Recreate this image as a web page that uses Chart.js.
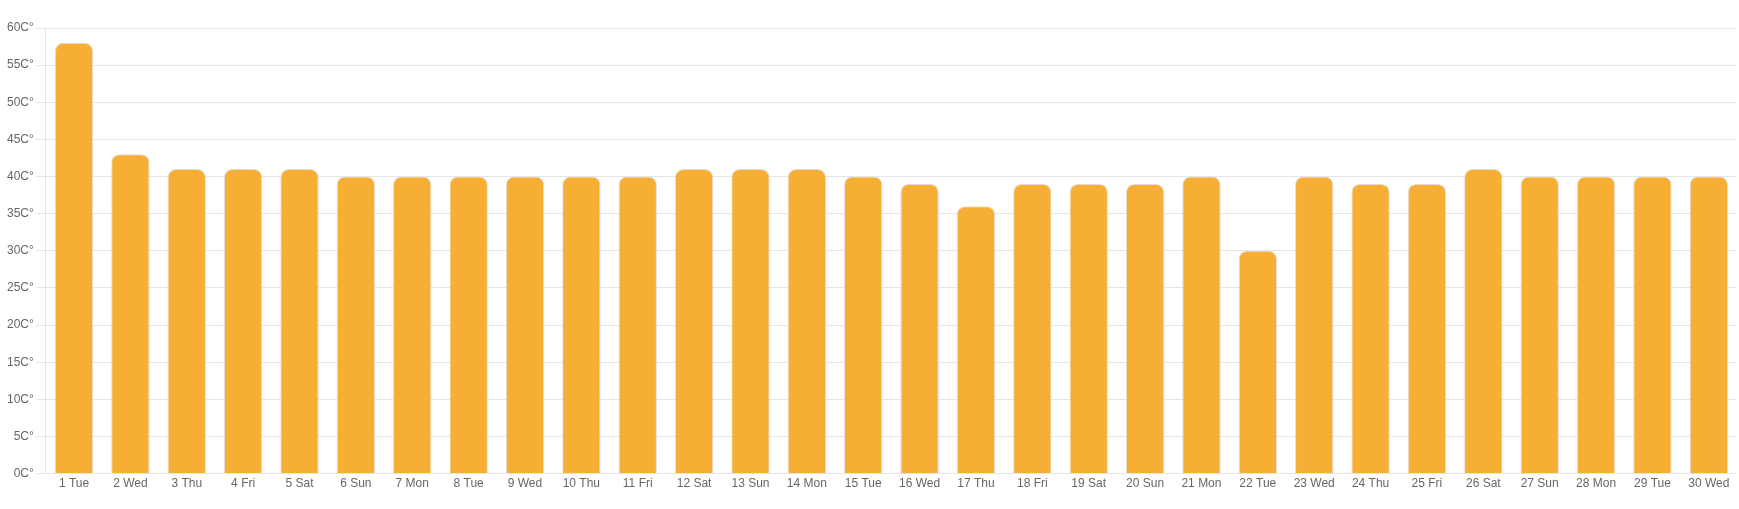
<!DOCTYPE html>
<html>
<head>
<meta charset="utf-8">
<script src="https://cdn.jsdelivr.net/npm/chart.js@4/dist/chart.umd.min.js"></script>
<style>
  html, body { margin: 0; padding: 0; background: #fff; }
  #wrap { width: 1739px; height: 509px; position: relative; }
</style>
</head>
<body>
<div id="wrap"><canvas id="tempChart"></canvas></div>
<script>
const dayLabels = ['1 Tue', '2 Wed', '3 Thu', '4 Fri', '5 Sat', '6 Sun', '7 Mon', '8 Tue', '9 Wed', '10 Thu',
    '11 Fri', '12 Sat', '13 Sun', '14 Mon', '15 Tue', '16 Wed', '17 Thu', '18 Fri', '19 Sat', '20 Sun',
    '21 Mon', '22 Tue', '23 Wed', '24 Thu', '25 Fri', '26 Sat', '27 Sun', '28 Mon', '29 Tue', '30 Wed'];
const maxTemps = [58, 43, 41, 41, 41, 40, 40, 40, 40, 40,
    40, 41, 41, 41, 40, 39, 36, 39, 39, 39,
    40, 30, 40, 39, 39, 41, 40, 40, 40, 40];
const yMin = 0;
const yMax = 60;
const yStep = 5;

Chart.defaults.font.family = '"Liberation Sans", Arial, sans-serif';
Chart.defaults.font.size = 12;
Chart.defaults.color = '#666';

const ctx = document.getElementById('tempChart').getContext('2d');
new Chart(ctx, {
    type: 'bar',
    data: {
        labels: dayLabels,
        datasets: [{
            label: 'Temperature',
            data: maxTemps,
            backgroundColor: '#f6ae35',
            borderColor: '#e2ddd5',
            borderWidth: 1,
            borderRadius: 8,
            borderSkipped: 'bottom',
            barPercentage: 0.85,
            categoryPercentage: 0.8
        }]
    },
    options: {
        responsive: true,
        maintainAspectRatio: false,
        animation: false,
        layout: { padding: { top: 28, right: 2, bottom: 15, left: 5 } },
        plugins: {
            legend: { display: false },
            tooltip: { enabled: false }
        },
        scales: {
            x: {
                grid: { display: false, drawTicks: false },
                border: { display: false },
                ticks: { color: '#666', maxRotation: 0, autoSkip: false, padding: 3 }
            },
            y: {
                min: yMin,
                max: yMax,
                grid: { color: 'rgba(0,0,0,0.1)', tickLength: 10 },
                border: { color: 'rgba(0,0,0,0.1)' },
                ticks: {
                    stepSize: yStep,
                    color: '#666',
                    padding: 2,
                    callback: function(value) {
                        return value + 'C°';
                    }
                }
            }
        }
    }
});
</script>
</body>
</html>
